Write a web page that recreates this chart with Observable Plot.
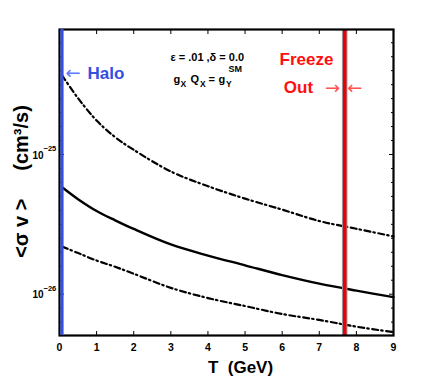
<!DOCTYPE html>
<html><head><meta charset="utf-8">
<script src="https://cdn.jsdelivr.net/npm/d3@7"></script>
<script src="https://cdn.jsdelivr.net/npm/@observablehq/plot@0.6"></script>
<style>body{margin:0;background:#fff} svg{display:block}</style>
</head><body><div id="chart"></div>
<script>
// Data
const T       = [0.07, 0.5, 1, 1.5, 2, 3, 4, 5, 6, 7, 8, 9];
const upper   = [3.68e-25, 2.53e-25, 1.75e-25, 1.33e-25, 1.08e-25, 7.56e-26, 5.93e-26, 4.83e-26, 4.03e-26, 3.34e-26, 2.94e-26, 2.59e-26];
const central = [5.83e-26, 4.79e-26, 3.94e-26, 3.38e-26, 2.93e-26, 2.27e-26, 1.89e-26, 1.61e-26, 1.37e-26, 1.19e-26, 1.06e-26, 9.52e-27];
const lower   = [2.19e-26, 1.97e-26, 1.74e-26, 1.57e-26, 1.40e-26, 1.11e-26, 9.38e-27, 8.22e-27, 7.21e-27, 6.54e-27, 5.85e-27, 5.35e-27];
const xTicks = [0, 1, 2, 3, 4, 5, 6, 7, 8, 9];
const yMajor = [1e-26, 1e-25];
const yExpLabels = ["−26", "−25"];
const haloT = [0.067];
const freezeT = [7.685];
const xDomain = [0, 9];
const yDomain = [5.06e-27, 7.85e-25];
const yMinor = d3.range(-26.2, -24.1, 0.1).map(e => Math.pow(10, e)).filter(v => Math.abs(Math.log10(v) - Math.round(Math.log10(v))) > 0.01);

const rows = (ys) => T.map((t, i) => ({T: t, v: ys[i]}));
const dashDot = "6,3,1.5,3.5";
const arrowFont = "'DejaVu Sans', sans-serif";

const eqPieces = [
  {t: "g", dx: 0, dy: 0, s: 11},
  {t: "X", dx: 7, dy: 4.5, s: 8.5},
  {t: "Q", dx: 17, dy: 0, s: 11},
  {t: "X", dx: 26.5, dy: 4.5, s: 8.5},
  {t: "=", dx: 35, dy: 0, s: 11},
  {t: "g", dx: 45, dy: 0, s: 11},
  {t: "Y", dx: 52.5, dy: 4.5, s: 8.5},
  {t: "SM", dx: 55, dy: -10, s: 9}
];

const chart = Plot.plot({
  width: 436,
  height: 382,
  marginLeft: 59,
  marginRight: 43,
  marginTop: 29,
  marginBottom: 47,
  style: {fontFamily: "'Liberation Sans', Arial, sans-serif", fontSize: "10px", fontWeight: "bold", background: "#fff"},
  x: {domain: xDomain},
  y: {type: "log", domain: yDomain},
  marks: [
    Plot.line(rows(upper), {x: "T", y: "v", stroke: "black", strokeWidth: 2.2, strokeDasharray: dashDot, curve: "catmull-rom"}),
    Plot.line(rows(central), {x: "T", y: "v", stroke: "black", strokeWidth: 2.4, curve: "catmull-rom"}),
    Plot.line(rows(lower), {x: "T", y: "v", stroke: "black", strokeWidth: 2.2, strokeDasharray: dashDot, curve: "catmull-rom"}),
    Plot.ruleX(freezeT, {stroke: "#999", strokeWidth: 5.5}),
    Plot.ruleX(freezeT, {stroke: "#e8000b", strokeWidth: 3.5}),
    // axes with inward ticks
    Plot.axisX({ticks: xTicks, tickSize: -4, tickPadding: 12, tickFormat: d => String(d), label: null, fontSize: 10.5}),
    Plot.axisX({anchor: "top", ticks: xTicks, tickSize: -4, tickFormat: () => "", label: null}),
    Plot.axisY({anchor: "left", ticks: yMajor, tickSize: -5, tickFormat: () => "", label: null}),
    Plot.axisY({anchor: "right", ticks: yMajor, tickSize: -5, tickFormat: () => "", label: null}),
    Plot.axisY({anchor: "left", ticks: yMinor, tickSize: -3, tickFormat: () => "", label: null}),
    Plot.axisY({anchor: "right", ticks: yMinor, tickSize: -3, tickFormat: () => "", label: null}),
    Plot.frame({stroke: "black", strokeWidth: 2.2}),
    Plot.ruleX(haloT, {stroke: "#3350e0", strokeWidth: 3.2}),
    // y tick labels 10^n
    Plot.text(yMajor, {y: d => d, frameAnchor: "left", text: () => "10", textAnchor: "end", dx: -16, dy: 1, fontSize: 10}),
    Plot.text(yMajor, {y: d => d, frameAnchor: "left", text: (d, i) => yExpLabels[i], textAnchor: "start", dx: -16, dy: -6, fontSize: 7.5}),
    // axis titles
    Plot.text(["T\u00a0\u00a0(GeV)"], {frameAnchor: "bottom", textAnchor: "middle", lineAnchor: "middle", dx: 14, dy: 32, fontSize: 17}),
    Plot.text(["<σ v >\u00a0\u00a0\u00a0\u00a0\u00a0(cm³/s)"], {frameAnchor: "left", textAnchor: "middle", lineAnchor: "middle", rotate: -90, dx: -38, dy: -1, fontSize: 20}),
    // annotations
    Plot.text([{x: 0.364, y: 3.80e-25}], {x: "x", y: "y", text: () => "←", fill: "#5a78ff", fontSize: 18, fontWeight: "normal", fontFamily: arrowFont}),
    Plot.text([{x: 0.755, y: 3.80e-25}], {x: "x", y: "y", text: () => "Halo", fill: "#3350e0", fontSize: 17, textAnchor: "start"}),
    Plot.text([{x: 6.656, y: 4.79e-25}], {x: "x", y: "y", text: () => "Freeze", fill: "#ff1010", fontSize: 17}),
    Plot.text([{x: 6.44, y: 3.02e-25}], {x: "x", y: "y", text: () => "Out", fill: "#ff1010", fontSize: 17}),
    Plot.text([{x: 7.36, y: 2.96e-25}], {x: "x", y: "y", text: () => "→", fill: "#ff5050", fontSize: 18, fontWeight: "normal", fontFamily: arrowFont}),
    Plot.text([{x: 7.96, y: 2.96e-25}], {x: "x", y: "y", text: () => "←", fill: "#ff5050", fontSize: 18, fontWeight: "normal", fontFamily: arrowFont}),
    Plot.text([{x: 2.99, y: 4.94e-25}], {x: "x", y: "y", text: () => "ε = .01 ,δ = 0.0", textAnchor: "start", fontSize: 11}),
    ...eqPieces.map(p => Plot.text([{x: 3.07, y: 3.44e-25}], {x: "x", y: "y", text: () => p.t, textAnchor: "start", dx: p.dx, dy: p.dy, fontSize: p.s}))
  ]
});
document.getElementById("chart").appendChild(chart);
</script>
</body></html>
